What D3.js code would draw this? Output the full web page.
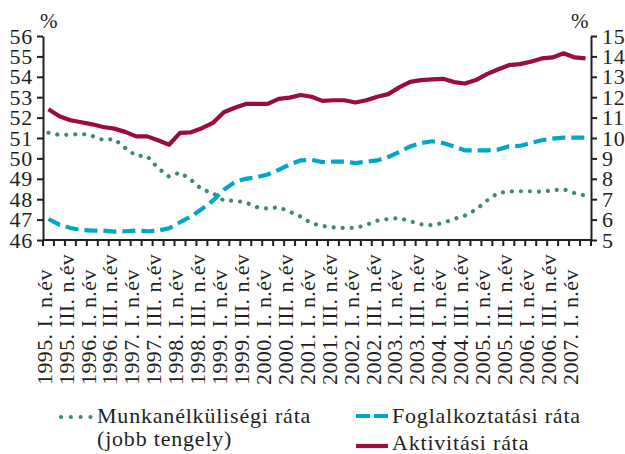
<!DOCTYPE html>
<html><head><meta charset="utf-8">
<script src="https://cdn.jsdelivr.net/npm/d3@7"></script>
<style>
body{margin:0;background:#fff}
</style></head>
<body><svg id="c" width="625" height="454"></svg>
<script>
const categories = [
"1995Q1","1995Q2","1995Q3","1995Q4","1996Q1","1996Q2","1996Q3","1996Q4",
"1997Q1","1997Q2","1997Q3","1997Q4","1998Q1","1998Q2","1998Q3","1998Q4",
"1999Q1","1999Q2","1999Q3","1999Q4","2000Q1","2000Q2","2000Q3","2000Q4",
"2001Q1","2001Q2","2001Q3","2001Q4","2002Q1","2002Q2","2002Q3","2002Q4",
"2003Q1","2003Q2","2003Q3","2003Q4","2004Q1","2004Q2","2004Q3","2004Q4",
"2005Q1","2005Q2","2005Q3","2005Q4","2006Q1","2006Q2","2006Q3","2006Q4",
"2007Q1","2007Q2"];

const tickLabels = [
"1995. I. n.év","1995. III. n.év","1996. I. n.év","1996. III. n.év",
"1997. I. n.év","1997. III. n.év","1998. I. n.év","1998. III. n.év",
"1999. I. n.év","1999. III. n.év","2000. I. n.év","2000. III. n.év",
"2001. I. n.év","2001. III. n.év","2002. I. n.év","2002. III. n.év",
"2003. I. n.év","2003. III. n.év","2004. I. n.év","2004. III. n.év",
"2005. I. n.év","2005. III. n.év","2006. I. n.év","2006. III. n.év",
"2007. I. n.év"];

// Aktivitási ráta (bal tengely)
const aktivitasi = [
52.41,52.07,51.87,51.77,51.67,51.54,51.46,51.30,51.08,51.08,
50.89,50.67,51.25,51.28,51.48,51.74,52.26,52.48,52.67,52.67,
52.67,52.92,52.98,53.11,53.02,52.82,52.85,52.85,52.74,52.85,
53.02,53.15,53.48,53.75,53.84,53.87,53.90,53.74,53.67,53.84,
54.13,54.36,54.57,54.62,54.74,54.90,54.95,55.15,54.95,54.90];

// Foglalkoztatási ráta (bal tengely)
const foglalkoztatasi = [
47.03,46.75,46.59,46.49,46.46,46.46,46.41,46.43,46.46,46.43,
46.46,46.57,46.87,47.15,47.52,47.93,48.46,48.84,49.00,49.08,
49.21,49.44,49.70,49.90,49.93,49.82,49.84,49.84,49.77,49.84,
49.90,50.07,50.31,50.59,50.75,50.84,50.75,50.59,50.39,50.39,
50.39,50.43,50.59,50.61,50.75,50.89,50.97,51.02,51.02,51.02];

// Munkanélküliségi ráta (jobb tengely)
const munkanelkuli = [
10.26,10.15,10.16,10.21,10.10,9.90,9.95,9.51,9.13,9.11,
8.52,8.11,8.31,7.95,7.48,7.30,6.93,6.93,6.84,6.61,
6.54,6.61,6.39,6.15,5.82,5.69,5.62,5.59,5.59,5.74,
5.95,6.03,6.08,5.92,5.77,5.72,5.84,6.03,6.20,6.49,
6.93,7.30,7.38,7.39,7.39,7.36,7.44,7.49,7.30,7.18];

const leftTicks = [46,47,48,49,50,51,52,53,54,55,56];
const rightTicks = [5,6,7,8,9,10,11,12,13,14,15];

const C_RED = "#9b0b3b", C_BLUE = "#00a7c9", C_GREEN = "#3d8b69", C_AX = "#231f20";
const FONT = "'Liberation Serif'";

const svg = d3.select("#c");
const L = 43, R = 591, T = 36, B = 240;

const x = d3.scaleBand().domain(categories).range([L, R]).padding(0);
const yL = d3.scaleLinear().domain([46, 56]).range([B, T]);
const yR = d3.scaleLinear().domain([5, 15]).range([B, T]);
const cx = c => x(c) + x.bandwidth() / 2;

function txt(sel, size, ls) {
  return sel.style("font-family", FONT).attr("font-size", size).attr("fill", C_AX)
    .attr("letter-spacing", ls || 0);
}

const gL = svg.append("g").attr("transform", `translate(${L},0)`)
  .call(d3.axisLeft(yL).tickValues(leftTicks).tickSize(6).tickSizeOuter(0).tickPadding(4).tickFormat(d3.format("d")));
const gR = svg.append("g").attr("transform", `translate(${R},0)`)
  .call(d3.axisRight(yR).tickValues(rightTicks).tickSize(6).tickSizeOuter(0).tickPadding(5).tickFormat(d3.format("d")));
[gL, gR].forEach(g => {
  g.attr("font-family", null).attr("font-size", null);
  g.select(".domain").attr("stroke", C_AX).attr("stroke-width", 2);
  g.selectAll(".tick line").attr("stroke", C_AX).attr("stroke-width", 2);
  txt(g.selectAll(".tick text"), 22, 0.8);
});

const gB = svg.append("g");
gB.append("line").attr("x1", L).attr("x2", R).attr("y1", B).attr("y2", B)
  .attr("stroke", C_AX).attr("stroke-width", 2);
const bounds = categories.map(c => x(c)).concat([x.range()[1]]);
gB.selectAll("line.t").data(bounds).enter().append("line").attr("class", "t")
  .attr("x1", d => d).attr("x2", d => d).attr("y1", B).attr("y2", B + 6)
  .attr("stroke", C_AX).attr("stroke-width", 2);
txt(gB.selectAll("text").data(tickLabels).enter().append("text")
  .attr("transform", (d, i) => `translate(${x(categories[i * 2]) + 1},385) rotate(-90)`)
  .attr("dy", "0.35em").attr("text-anchor", "start"), 22, 0.4)
  .text(d => d);

txt(svg.append("text").attr("x", 40).attr("y", 28), 21).text("%");
txt(svg.append("text").attr("x", 571).attr("y", 28), 21).text("%");

const lineL = d3.line().x((d, i) => cx(categories[i])).y(d => yL(d));
const lineR = d3.line().x((d, i) => cx(categories[i])).y(d => yR(d));

svg.append("path").attr("d", lineR(munkanelkuli)).attr("fill", "none")
  .attr("stroke", C_GREEN).attr("stroke-width", 4.2).attr("stroke-linecap", "round")
  .attr("stroke-dasharray", "0.01 9");
svg.append("path").attr("d", lineL(foglalkoztatasi)).attr("fill", "none")
  .attr("stroke", C_BLUE).attr("stroke-width", 4.2).attr("stroke-dasharray", "13 6");
svg.append("path").attr("d", lineL(aktivitasi)).attr("fill", "none")
  .attr("stroke", C_RED).attr("stroke-width", 4.2).attr("stroke-linejoin", "round");

const lg = svg.append("g");
lg.append("line").attr("x1", 61).attr("x2", 92).attr("y1", 417).attr("y2", 417)
  .attr("stroke", C_GREEN).attr("stroke-width", 4.2).attr("stroke-linecap", "round")
  .attr("stroke-dasharray", "0.01 9.8");
txt(lg.append("text").attr("x", 97).attr("y", 423), 22, 0.8).text("Munkanélküliségi ráta");
txt(lg.append("text").attr("x", 97).attr("y", 446), 22, 0.8).text("(jobb tengely)");
lg.append("line").attr("x1", 356).attr("x2", 388).attr("y1", 416).attr("y2", 416)
  .attr("stroke", C_BLUE).attr("stroke-width", 4.2).attr("stroke-dasharray", "14 4");
txt(lg.append("text").attr("x", 392).attr("y", 423), 22, 0.8).text("Foglalkoztatási ráta");
lg.append("line").attr("x1", 356).attr("x2", 388).attr("y1", 446).attr("y2", 446)
  .attr("stroke", C_RED).attr("stroke-width", 4.2);
txt(lg.append("text").attr("x", 392).attr("y", 450), 22, 0.8).text("Aktivitási ráta");
</script></body></html>
